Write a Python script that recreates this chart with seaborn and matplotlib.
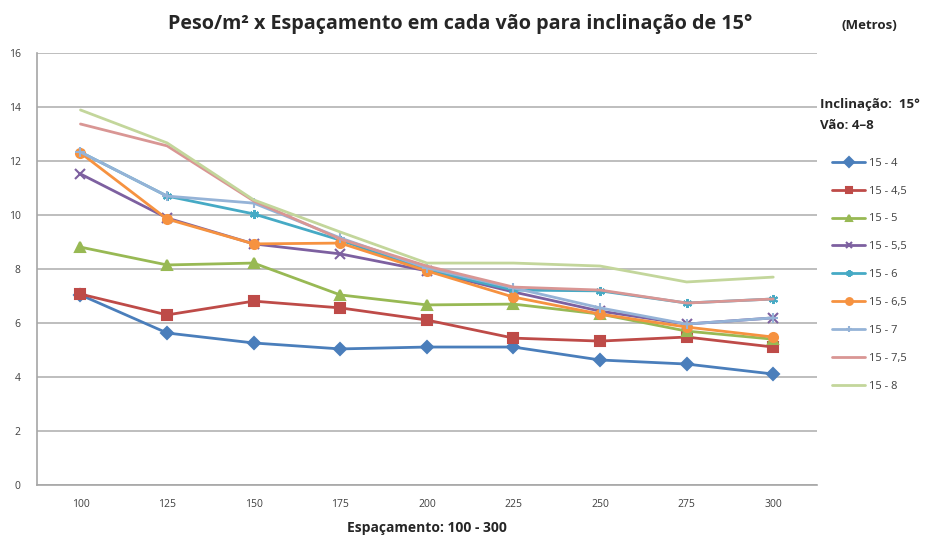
import numpy as np
import pandas as pd
import matplotlib
matplotlib.use('Agg')
import matplotlib.pyplot as plt
import seaborn as sns

# espaçamento (categorias do eixo x)
espacamento = ['100', '125', '150', '175', '200', '225', '250', '275', '300']

# peso/m2 por série (inclinação 15 - vão)
s_4 = [7.04, 5.63, 5.26, 5.04, 5.11, 5.11, 4.63, 4.48, 4.11]
s_45 = [7.07, 6.30, 6.81, 6.56, 6.11, 5.44, 5.33, 5.48, 5.11]
s_5 = [8.81, 8.15, 8.22, 7.04, 6.67, 6.70, 6.33, 5.70, 5.40]
s_55 = [11.52, 9.89, 8.93, 8.56, 7.93, 7.15, 6.44, 5.96, 6.19]
s_6 = [12.33, 10.70, 10.04, 9.07, 7.96, 7.22, 7.19, 6.74, 6.89]
s_65 = [12.30, 9.85, 8.93, 8.96, 7.93, 6.96, 6.33, 5.85, 5.48]
s_7 = [12.33, 10.70, 10.44, 9.15, 8.04, 7.30, 6.56, 5.96, 6.19]
s_75 = [13.37, 12.56, 10.52, 9.11, 8.11, 7.33, 7.22, 6.74, 6.89]
s_8 = [13.89, 12.67, 10.56, 9.37, 8.22, 8.22, 8.11, 7.52, 7.70]

nomes = ['15 - 4', '15 - 4,5', '15 - 5', '15 - 5,5', '15 - 6',
         '15 - 6,5', '15 - 7', '15 - 7,5', '15 - 8']
series = [s_4, s_45, s_5, s_55, s_6, s_65, s_7, s_75, s_8]
cores = ['#4A7EBB', '#BE4B48', '#98B954', '#7D60A0', '#46AAC5',
         '#F69240', '#95B3D7', '#D99694', '#C3D69B']
marcadores = ['D', 's', '^', 'x', (6, 2, 0), 'o', '+', None, None]

sns.set_style('white')
plt.rcParams['font.family'] = ['Open Sans', 'DejaVu Sans']

fig = plt.figure(figsize=(9.3, 5.38), dpi=100)
ax = fig.add_axes([0.040, 0.0985, 0.838, 0.803])

for nome, vals, cor, mk in zip(nomes, series, cores, marcadores):
    df = pd.DataFrame({'esp': espacamento, 'peso': vals})
    sns.lineplot(data=df, x='esp', y='peso', ax=ax, color=cor, lw=2,
                 marker=mk, markersize=6.5, markeredgecolor=cor,
                 markeredgewidth=1.5, label=nome, sort=False)

ax.set_xlim(-0.5, 8.5)
ax.set_ylim(0, 16)
ax.set_yticks(np.arange(0, 17, 2))
ax.yaxis.grid(True, color='#b3b3b3', lw=1.2)
ax.xaxis.grid(False)
ax.set_axisbelow(True)
for s in ['top', 'right']:
    ax.spines[s].set_visible(False)
for s in ['left', 'bottom']:
    ax.spines[s].set_color('#a6a6a6')
    ax.spines[s].set_linewidth(1.2)

ax.set_xticks(np.arange(-0.5, 9, 1), minor=True)
ax.tick_params(axis='x', which='minor', length=4, color='#a6a6a6', width=1)
ax.tick_params(axis='x', which='major', length=0, labelsize=7.5,
               labelcolor='#404040', pad=10)
ax.tick_params(axis='y', length=0, labelsize=7.5, labelcolor='#404040', pad=12)
ax.set_xlabel('Espaçamento: 100 - 300', fontsize=10, fontweight='bold',
              labelpad=8)
ax.set_ylabel('')

fig.text(0.495, 0.955, 'Peso/m² x Espaçamento em cada vão para inclinação de 15°',
         ha='center', va='center', fontsize=14.2, fontweight='bold')
fig.text(0.935, 0.952, '(Metros)', ha='center', va='center', fontsize=9.5,
         fontweight='bold')
fig.text(0.882, 0.805, 'Inclinação:  15°', ha='left', va='center',
         fontsize=9.5, fontweight='bold')
fig.text(0.882, 0.767, 'Vão: 4–8', ha='left', va='center',
         fontsize=9.5, fontweight='bold')

ax.legend(loc='upper left', bbox_to_anchor=(1.014, 0.768), frameon=False,
          fontsize=8, handlelength=3, labelspacing=1.52, handletextpad=0.3,
          labelcolor='#404040', borderaxespad=0, markerscale=0.75)

fig.savefig('out.png', dpi=100)
